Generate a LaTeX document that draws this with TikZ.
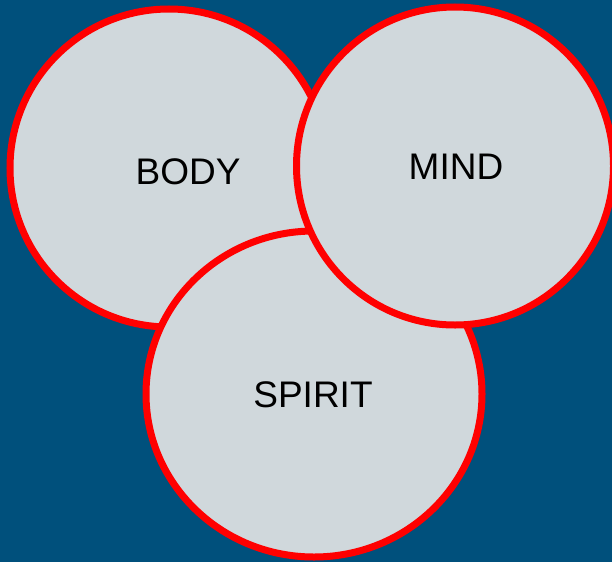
\documentclass[tikz,border=0pt]{standalone}
\usepackage{fontspec}
\setmainfont{Liberation Sans}
\usetikzlibrary{shapes.geometric}
\definecolor{bgblue}{RGB}{0,80,124}
\definecolor{disc}{RGB}{208,216,220}
\tikzset{
  ring/.style={ellipse, draw=red, fill=disc, line width=7pt, inner sep=0pt},
  word/.style={font=\fontsize{37}{40}\selectfont, text=black}
}
\begin{document}
\begin{tikzpicture}[x=1pt, y=-1pt]
    \useasboundingbox (0,0) rectangle (612,562);
    \clip (0,0) rectangle (612,562);
    \fill[bgblue] (0,0) rectangle (612,562);

    \node[ring, minimum width=318pt, minimum height=318pt] (body) at (169,168) {};
    \node[ring, minimum width=336pt, minimum height=326pt] (spirit) at (314,394) {};
    \node[ring, minimum width=317pt, minimum height=318pt] (mind) at (455,166) {};

    \node[word] (bodytxt) at (188,172) {BODY};
    \node[word] (mindtxt) at (456,167) {MIND};
    \node[word] (spirittxt) at (313,395) {SPIRIT};
\end{tikzpicture}
\end{document}
